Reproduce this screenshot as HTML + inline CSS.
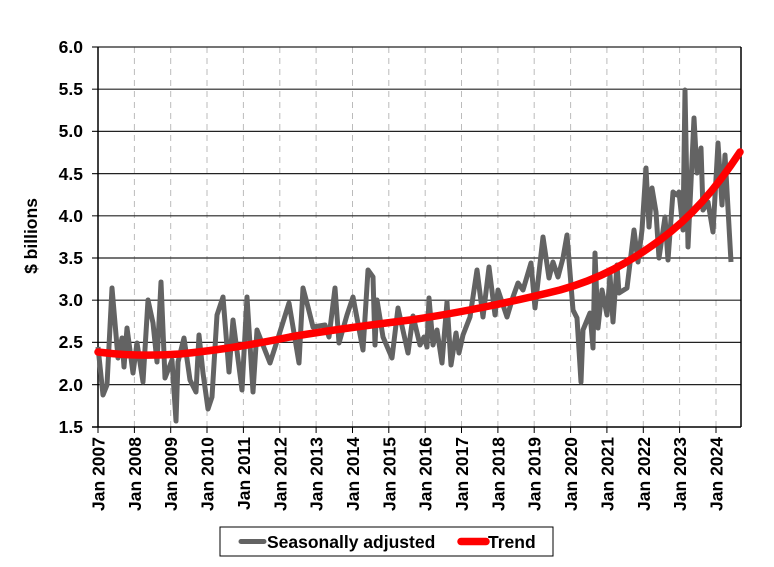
<!DOCTYPE html>
<html><head><meta charset="utf-8"><style>
body{margin:0;background:#fff}
text{font-family:"Liberation Sans",Arial,sans-serif;font-weight:bold;fill:#000}
</style></head><body>
<svg width="774" height="562" xmlns="http://www.w3.org/2000/svg">
<g stroke="#bbb" stroke-width="1" stroke-dasharray="6,5">
<line x1="134.4" y1="47" x2="134.4" y2="427"/><line x1="170.7" y1="47" x2="170.7" y2="427"/><line x1="207" y1="47" x2="207" y2="427"/><line x1="243.4" y1="47" x2="243.4" y2="427"/><line x1="279.8" y1="47" x2="279.8" y2="427"/><line x1="316.1" y1="47" x2="316.1" y2="427"/><line x1="352.5" y1="47" x2="352.5" y2="427"/><line x1="388.8" y1="47" x2="388.8" y2="427"/><line x1="425.2" y1="47" x2="425.2" y2="427"/><line x1="461.5" y1="47" x2="461.5" y2="427"/><line x1="497.9" y1="47" x2="497.9" y2="427"/><line x1="534.2" y1="47" x2="534.2" y2="427"/><line x1="570.6" y1="47" x2="570.6" y2="427"/><line x1="606.9" y1="47" x2="606.9" y2="427"/><line x1="643.3" y1="47" x2="643.3" y2="427"/><line x1="679.6" y1="47" x2="679.6" y2="427"/><line x1="716" y1="47" x2="716" y2="427"/>
</g>
<g stroke="#222" stroke-width="1.2">
<line x1="92" y1="47" x2="741" y2="47"/><line x1="92" y1="89.2" x2="741" y2="89.2"/><line x1="92" y1="131.4" x2="741" y2="131.4"/><line x1="92" y1="173.6" x2="741" y2="173.6"/><line x1="92" y1="215.8" x2="741" y2="215.8"/><line x1="92" y1="258" x2="741" y2="258"/><line x1="92" y1="300.2" x2="741" y2="300.2"/><line x1="92" y1="342.4" x2="741" y2="342.4"/><line x1="92" y1="384.6" x2="741" y2="384.6"/>
</g>
<g stroke="#000" stroke-width="1.5" fill="none">
<line x1="98" y1="47" x2="98" y2="427"/><line x1="741" y1="47" x2="741" y2="427"/><line x1="92" y1="427" x2="741" y2="427"/>
</g>
<g stroke="#000" stroke-width="1">
<line x1="98" y1="427" x2="98" y2="433"/><line x1="134.4" y1="427" x2="134.4" y2="433"/><line x1="170.7" y1="427" x2="170.7" y2="433"/><line x1="207" y1="427" x2="207" y2="433"/><line x1="243.4" y1="427" x2="243.4" y2="433"/><line x1="279.8" y1="427" x2="279.8" y2="433"/><line x1="316.1" y1="427" x2="316.1" y2="433"/><line x1="352.5" y1="427" x2="352.5" y2="433"/><line x1="388.8" y1="427" x2="388.8" y2="433"/><line x1="425.2" y1="427" x2="425.2" y2="433"/><line x1="461.5" y1="427" x2="461.5" y2="433"/><line x1="497.9" y1="427" x2="497.9" y2="433"/><line x1="534.2" y1="427" x2="534.2" y2="433"/><line x1="570.6" y1="427" x2="570.6" y2="433"/><line x1="606.9" y1="427" x2="606.9" y2="433"/><line x1="643.3" y1="427" x2="643.3" y2="433"/><line x1="679.6" y1="427" x2="679.6" y2="433"/><line x1="716" y1="427" x2="716" y2="433"/>
</g>
<g font-size="17.5" text-anchor="end">
<text x="83" y="53">6.0</text><text x="83" y="95">5.5</text><text x="83" y="137">5.0</text><text x="83" y="180">4.5</text><text x="83" y="222">4.0</text><text x="83" y="264">3.5</text><text x="83" y="306">3.0</text><text x="83" y="348">2.5</text><text x="83" y="391">2.0</text><text x="83" y="433">1.5</text>
</g>
<text font-size="17.5" transform="translate(37,236) rotate(-90)" text-anchor="middle">$ billions</text>
<g font-size="17.5" text-anchor="end">
<text transform="translate(104.5,437) rotate(-90)">Jan 2007</text><text transform="translate(140.9,437) rotate(-90)">Jan 2008</text><text transform="translate(177.2,437) rotate(-90)">Jan 2009</text><text transform="translate(213.5,437) rotate(-90)">Jan 2010</text><text transform="translate(249.9,437) rotate(-90)">Jan 2011</text><text transform="translate(286.3,437) rotate(-90)">Jan 2012</text><text transform="translate(322.6,437) rotate(-90)">Jan 2013</text><text transform="translate(359,437) rotate(-90)">Jan 2014</text><text transform="translate(395.3,437) rotate(-90)">Jan 2015</text><text transform="translate(431.7,437) rotate(-90)">Jan 2016</text><text transform="translate(468,437) rotate(-90)">Jan 2017</text><text transform="translate(504.4,437) rotate(-90)">Jan 2018</text><text transform="translate(540.7,437) rotate(-90)">Jan 2019</text><text transform="translate(577.1,437) rotate(-90)">Jan 2020</text><text transform="translate(613.4,437) rotate(-90)">Jan 2021</text><text transform="translate(649.8,437) rotate(-90)">Jan 2022</text><text transform="translate(686.1,437) rotate(-90)">Jan 2023</text><text transform="translate(722.5,437) rotate(-90)">Jan 2024</text>
</g>
<polyline fill="none" stroke="#636363" stroke-width="5" stroke-linejoin="round" points="98,347 103,395 107,385 112,288 118,358 122,338 124,367 127,328 133,373 137,343 143,382 148,300 153,323 157,362 161,282 165,378 172,360 176,421 178,362 184,338 190,380 196,392 199,335 203,373 208,409 212,397 217,315 223,297 229,372 233,320 242,390 247,297 253,392 257,330 270,363 279,335 289,303 299,363 303,288 308,307 313,327 325,325 329,337 335,288 339,343 347,315 353,297 363,350 368,270 373,277 375,345 377,300 383,337 392,358 398,308 408,353 413,316 420,345 424,337 427,347 429,298 433,345 437,330 442,363 447,302 451,365 456,333 459,353 463,335 470,317 477,270 483,317 489,267 495,315 498,290 507,317 513,297 518,283 523,290 531,263 535,308 543,237 549,278 553,262 558,277 563,258 567,235 573,310 577,318 581,382 583,330 590,313 593,348 595,253 598,328 602,290 607,315 610,275 613,322 617,265 619,293 627,288 634,230 638,262 642,230 646,168 649,227 652,188 656,212 659,258 665,217 668,260 673,192 677,195 679,192 683,230 685,90 688,247 694,118 697,173 701,148 703,210 708,202 713,232 718,143 722,205 725,155 731,262"/>
<path fill="none" stroke="#f00" stroke-width="7.5" stroke-linecap="round" d="M98,352 C120,355 150,356 180,354 C220,350 250,345 290,337 C330,330 370,325 410,320 C460,313 520,300 560,290 C600,279 630,262 660,240 C690,218 715,190 740,152"/>
<rect x="220" y="527" width="333" height="29" fill="#fff" stroke="#000" stroke-width="1"/>
<line x1="241" y1="541.5" x2="264" y2="541.5" stroke="#636363" stroke-width="5" stroke-linecap="round"/>
<text x="267" y="548" font-size="17.5">Seasonally adjusted</text>
<line x1="461" y1="541.5" x2="486" y2="541.5" stroke="#f00" stroke-width="7.5" stroke-linecap="round"/>
<text x="488" y="548" font-size="17.5">Trend</text>
</svg>
</body></html>
